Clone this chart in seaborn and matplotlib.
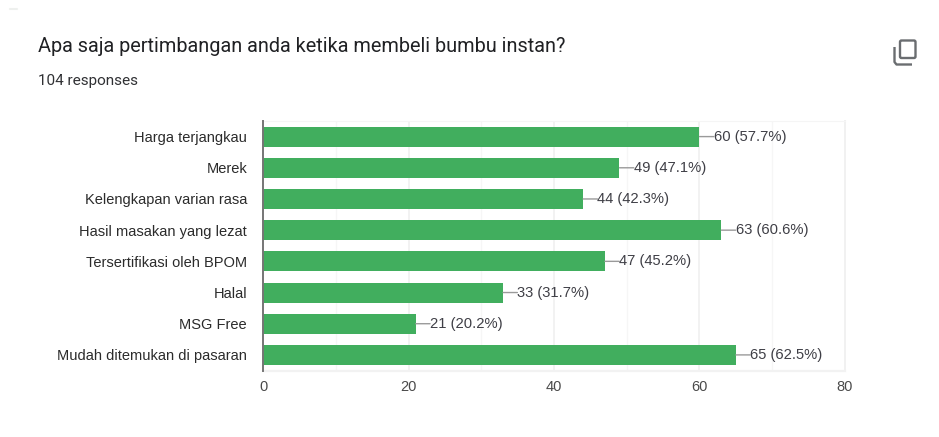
import matplotlib
matplotlib.use("Agg")
import matplotlib.pyplot as plt
from matplotlib.patches import FancyBboxPatch
from matplotlib.ticker import MultipleLocator
import pandas as pd
import seaborn as sns

question = "Apa saja pertimbangan anda ketika membeli bumbu instan?"
responses = "104 responses"
options = ["Harga terjangkau", "Merek", "Kelengkapan varian rasa",
           "Hasil masakan yang lezat", "Tersertifikasi oleh BPOM", "Halal",
           "MSG Free", "Mudah ditemukan di pasaran"]
counts = [60, 49, 44, 63, 47, 33, 21, 65]
percents = [57.7, 47.1, 42.3, 60.6, 45.2, 31.7, 20.2, 62.5]

W, H = 939, 437
sns.set_theme(style="white")
plt.rcParams["font.family"] = ["Liberation Sans", "DejaVu Sans"]

fig = plt.figure(figsize=(W / 100, H / 100), dpi=100, facecolor="white")
ax = fig.add_axes([263 / W, 1 - 370.5 / H, (845 - 263) / W, (370.5 - 121) / H])

frame = pd.DataFrame({"option": options, "count": counts})
sns.barplot(data=frame, x="count", y="option", color="#41AE5E", saturation=1,
            width=0.64, linewidth=0, ax=ax, zorder=3)

ax.set_xlim(0, 80)
ax.set_ylim(7.5, -0.5)
ax.set_xlabel("")
ax.set_ylabel("")
ax.xaxis.set_major_locator(MultipleLocator(20))
ax.xaxis.set_minor_locator(MultipleLocator(10))
ax.grid(True, axis="x", which="major", color="#EFEFEF", lw=1.1, zorder=0)
ax.grid(True, axis="x", which="minor", color="#F6F6F6", lw=1.0, zorder=0)
ax.tick_params(axis="x", which="both", length=0, pad=6.5, labelsize=10.5, labelcolor="#4A4A4A")
ax.tick_params(axis="y", length=0, pad=11.5, labelsize=10.5, labelcolor="#2B2B2B")

for side, color, lw in [("top", "#F5F5F5", 0.8), ("right", "#F1F1F1", 1.4),
                        ("bottom", "#F2F2F2", 1.6), ("left", "#757575", 1.4)]:
    ax.spines[side].set_visible(True)
    ax.spines[side].set_color(color)
    ax.spines[side].set_linewidth(lw)
ax.spines["left"].set_zorder(5)

# Leader line and "count (percent)" label at the end of every bar
for i, (n, p) in enumerate(zip(counts, percents)):
    ax.annotate(f"{n} ({p}%)", xy=(n, i), xycoords="data",
                xytext=(10.3, 0), textcoords="offset points",
                ha="left", va="center", fontsize=10.6, color="#3F3F46",
                arrowprops=dict(arrowstyle="-", color="#9A9A9A", lw=1,
                                shrinkA=0, shrinkB=0, relpos=(0, 0.5), patchA=None))

fig.text(38 / W, 1 - 47 / H, question, fontsize=14.35, family="Roboto",
         color="#202124", ha="left", va="center")
fig.text(38 / W, 1 - 81.5 / H, responses, fontsize=11, family="Roboto",
         color="#303134", ha="left", va="center")

# Copy-to-clipboard icon in the header
overlay = fig.add_axes([0, 0, 1, 1], facecolor="none")
overlay.set_xlim(0, W)
overlay.set_ylim(H, 0)
overlay.axis("off")
overlay.add_patch(FancyBboxPatch((900, 40.5), 15.5, 17.5,
                                 boxstyle="round,pad=0,rounding_size=1.5",
                                 fc="none", ec="#6A6D70", lw=1.7))
overlay.plot([894.5, 894.5, 896.5, 912], [47, 62, 64.5, 64.5], color="#6A6D70", lw=1.7,
             solid_capstyle="butt")
overlay.plot([10, 17], [9, 9], color="#EEF0EE", lw=1.5)

fig.savefig("out.png", dpi=100, facecolor="white")
